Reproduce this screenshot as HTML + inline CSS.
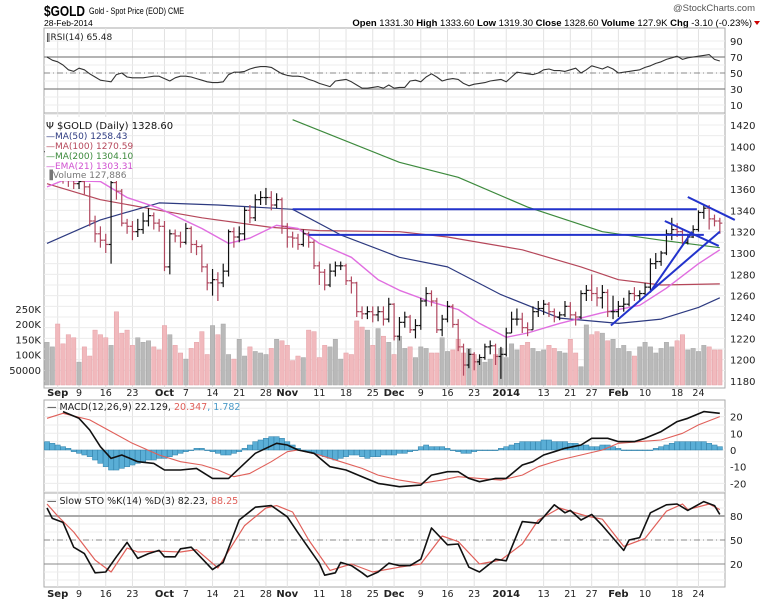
<!DOCTYPE html>
<html><head><meta charset="utf-8"><style>
html,body{margin:0;padding:0;background:#fff;}
svg{display:block;font-family:"DejaVu Sans","Liberation Sans",sans-serif;}
</style></head><body>
<svg id="c" width="765" height="601" viewBox="0 0 765 601" xmlns="http://www.w3.org/2000/svg">
<text x="44" y="16" font-family="Liberation Sans Narrow, Liberation Sans, sans-serif" font-weight="bold" font-size="15" textLength="41" lengthAdjust="spacingAndGlyphs">$GOLD</text>
<text x="89" y="14" font-size="9" textLength="95" lengthAdjust="spacingAndGlyphs" font-family="Liberation Sans, sans-serif">Gold - Spot Price (EOD)  CME</text>
<text x="44" y="26" font-size="8.5" font-family="Liberation Sans, sans-serif">28-Feb-2014</text>
<text x="755" y="11" font-size="9.5" text-anchor="end" fill="#555" font-family="Liberation Sans, sans-serif">@StockCharts.com</text>
<text x="752" y="26" font-size="9.5" text-anchor="end" font-family="Liberation Sans, sans-serif"><tspan font-weight="bold">Open</tspan> 1331.30 <tspan font-weight="bold">High</tspan> 1333.60 <tspan font-weight="bold">Low</tspan> 1319.30 <tspan font-weight="bold">Close</tspan> 1328.60 <tspan font-weight="bold">Volume</tspan> 127.9K <tspan font-weight="bold">Chg</tspan> -3.10 (-0.23%)</text>
<polygon points="754,21 760,21 757,25" fill="#c00"/>
<g id="g"></g>
</svg>
<script>
const closes=[1395,1396,
1390,1372,1368,1365,1367,1362,1330,1318,1312,1308,1366,1358,1328,1325,1320,1322,1330,1335,1328,1325,
1287,1318,1316,1310,1323,1308,1306,1287,1272,1275,1272,1283,1320,1315,1318,1340,1333,1350,1352,1352,1345,1350,1325,
1315,1314,1308,1318,1310,1288,1282,1270,1283,1288,1288,1274,1272,1245,1243,1245,1242,1245,1238,1252,
1222,1235,1240,1228,1232,1255,1262,1255,1228,1238,1250,1233,1212,1195,1205,1198,1202,1212,1213,1203,1205,
1225,1238,1238,1230,1228,1245,1248,1252,1245,1240,1242,1250,1242,1240,1262,1265,1262,1258,1263,1245,1245,
1250,1252,1262,1260,1262,1268,1290,1292,1300,1318,1322,1320,1310,1315,1322,1338,1342,1332,1330,1328];
const highs=[1400,1400,
1398,1392,1375,1372,1372,1370,1365,1335,1325,1318,1375,1370,1360,1332,1330,1332,1338,1342,1338,1332,
1330,1322,1322,1320,1328,1325,1312,1308,1290,1285,1282,1290,1322,1324,1325,1343,1345,1355,1358,1361,1358,1356,1352,
1328,1320,1318,1322,1320,1312,1292,1285,1290,1292,1292,1290,1278,1273,1250,1250,1250,1250,1250,1258,
1253,1240,1245,1242,1238,1258,1268,1265,1258,1242,1255,1252,1238,1215,1210,1207,1205,1215,1218,1215,1212,
1230,1245,1248,1244,1235,1250,1255,1256,1254,1248,1245,1255,1254,1245,1265,1270,1280,1268,1270,1266,1260,
1255,1258,1265,1268,1265,1272,1295,1300,1302,1322,1333,1328,1322,1318,1326,1340,1346,1345,1336,1333];
const lows=[1385,1388,
1370,1365,1362,1360,1360,1355,1325,1310,1305,1300,1290,1350,1325,1318,1312,1315,1318,1325,1322,1320,
1283,1280,1310,1305,1308,1300,1298,1282,1265,1260,1255,1268,1278,1305,1310,1312,1328,1330,1345,1345,1340,1342,1318,
1305,1305,1303,1306,1305,1285,1270,1265,1268,1278,1284,1270,1262,1240,1238,1238,1235,1236,1232,1235,
1218,1218,1230,1225,1220,1228,1250,1250,1225,1222,1235,1230,1208,1185,1192,1190,1195,1200,1205,1195,1182,
1203,1225,1232,1225,1222,1228,1240,1242,1240,1235,1237,1240,1238,1232,1238,1255,1255,1250,1248,1240,1238,
1240,1245,1250,1255,1255,1260,1265,1285,1288,1298,1312,1315,1308,1308,1314,1320,1332,1322,1325,1318];
const volumes=[140,125,
200,135,165,155,75,125,95,180,165,155,130,240,170,180,130,155,140,145,125,115,
195,165,130,105,85,120,140,175,100,195,165,200,100,85,150,95,125,110,105,100,120,150,145,
130,80,95,90,180,175,90,130,125,150,85,105,100,210,190,180,130,185,160,140,
100,160,120,125,90,125,120,105,105,155,110,115,150,105,120,100,85,75,85,100,120,
90,135,115,130,140,120,110,115,130,120,110,105,150,105,60,197,165,175,170,145,150,
120,130,110,95,125,140,125,105,120,140,125,145,165,115,120,110,130,125,115,115];
const rsi=[70,66,64,60,54,52,56,54,49,45,41,40,39,48,50,45,44,44,44,45,46,46,43,40,44,46,46,45,43,41,39,38,38,39,48,51,51,52,55,57,58,58,57,53,49,47,46,46,45,42,40,37,35,33,40,41,42,39,35,31,31,32,33,31,35,31,32,32,40,41,39,45,49,45,40,42,43,42,37,34,36,37,38,40,41,42,39,45,51,50,49,48,50,54,55,53,53,52,54,56,50,54,59,57,55,58,55,50,51,52,53,54,57,59,62,64,67,69,71,67,69,70,71,72,73,67,65];
const ma50Idx=[0,10,21,32,46,55,66,75,85,96,107,115,122,126];
const ma50Vals=[1309,1331,1347,1345,1341,1317,1296,1287,1261,1239,1234,1238,1249,1258];
const ma100Idx=[0,10,21,29,42,51,66,75,89,100,107,115,126];
const ma100Vals=[1365,1350,1340,1333,1324,1321,1320,1315,1303,1287,1275,1270,1271];
const ma200Idx=[46,66,77,90,104,115,126];
const ma200Vals=[1425,1385,1371,1343,1320,1312,1305];
const emaIdx=[0,3,10,15,21,29,34,38,43,47,51,57,62,66,72,77,81,86,90,96,104,111,116,122,126];
const emaVals=[1362,1368,1367,1352,1342,1323,1309,1314,1326,1323,1309,1296,1275,1265,1254,1247,1234,1221,1225,1234,1244,1251,1267,1290,1303];
const macdIdx=[3,6,8,10,12,14,17,20,22,25,28,31,34,36,39,43,45,47,50,53,56,59,62,66,70,72,75,77,79,81,84,86,89,91,93,95,97,100,102,105,107,110,112,115,118,120,123,126];
const macdVals=[23,19,12,2,-5,-3,-7,-8,-12,-12,-11,-17,-17,-11,-2,4,3,0,-2,-10,-12,-16,-20,-22,-21,-15,-13,-13,-17,-19,-17,-17,-9,-7,-3,-1,1,3,7,7,5,5,7,11,17,19,23,22];
const sigIdx=[0,3,8,12,16,21,25,29,32,35,38,42,45,47,51,55,59,62,66,70,74,77,81,85,89,92,96,100,104,107,111,115,119,122,126];
const sigVals=[19,22,18,11,4,-3,-7,-9,-12,-16,-14,-7,-1,0,-3,-7,-11,-15,-18,-20,-18,-16,-17,-18,-15,-10,-6,-3,0,4,5,6,10,15,20];
const hist=[5,4,3,2,1,-1,-2,-3,-4,-6,-8,-10,-12,-12,-11,-10,-9,-8,-7,-6,-6,-5,-5,-4,-3,-2,-1,0,1,1,0,-1,-2,-3,-3,-2,-1,1,3,5,6,7,8,8,7,5,3,1,0,-1,-2,-3,-4,-5,-6,-5,-4,-3,-3,-4,-5,-4,-4,-3,-3,-3,-2,-2,-1,0,2,3,2,2,2,1,0,-1,-2,-2,-1,0,0,0,0,1,2,3,4,5,5,5,5,6,6,5,5,5,4,4,3,3,2,2,3,3,2,1,0,0,0,0,0,0,1,2,3,4,5,5,5,5,5,5,4,3,2];
const kIdx=[0,1,3,5,7,9,11,13,15,17,19,21,22,24,25,27,31,33,36,39,42,45,47,51,52,54,55,57,59,60,62,64,66,68,70,72,75,77,79,81,84,86,89,92,95,97,98,100,102,104,108,109,111,113,116,118,120,123,125,126];
const kVals=[90,77,72,41,33,9,10,29,47,27,33,37,29,29,39,41,13,22,75,91,93,79,59,21,6,9,22,18,9,4,10,21,18,18,26,65,44,45,16,10,26,24,73,71,94,84,87,75,82,68,37,50,53,84,94,95,87,98,93,82];
const dIdx=[0,2,5,9,12,15,17,21,25,28,32,37,41,43,46,49,53,57,61,66,70,74,77,81,85,89,92,96,101,104,108,112,116,119,120,124,126];
const dVals=[95,80,60,25,10,40,35,36,35,38,15,68,90,93,85,50,12,20,10,16,20,55,48,20,25,45,75,90,80,76,42,52,86,95,88,95,88];
const dateLabels=["Sep","9","16","23","Oct","7","14","21","28","Nov","11","18","25","Dec","9","16","23","2014","13","21","27","Feb","10","18","24"];
const dateIdx=[2,6,11,16,22,26,31,36,41,45,51,56,61,65,70,75,80,86,93,98,102,107,112,118,122];
const dateBold=["Sep","Oct","Nov","Dec","2014","Feb"];
const priceTicks=[1180,1200,1220,1240,1260,1280,1300,1320,1340,1360,1380,1400,1420];
const volTicks=[50,100,150,200,250];
const volTickLabels=["50000","100K","150K","200K","250K"];
const rsiTicks=[10,30,50,70,90];
const macdTicks=[-20,-10,0,10,20];
const stoTicks=[20,50,80];
const trendLines=[[46,1341,121.7,1341],[49,1317,123,1317],[105.6,1232,126,1320],[112.9,1263,120.8,1320],[115.7,1330,125.8,1306.6],[120,1352.5,128.8,1331]];

const L=44,R=725;
const X=i=>47+5.34*i;
const yP=p=>125+(1420-p)*1.0667;
const yV=v=>385-v*0.305;
const yR=v=>41+(90-v)*0.8;
const yM=v=>450-v*1.67;
const yS=v=>516+(80-v)*0.8;
const NS="http://www.w3.org/2000/svg";
const G=document.getElementById('g');
function mk(tag,attrs,parent){const e=document.createElementNS(NS,tag);for(const k in attrs)e.setAttribute(k,attrs[k]);(parent||G).appendChild(e);return e;}
function txt(s,x,y,attrs){const e=mk('text',Object.assign({x:x,y:y,'font-size':10},attrs||{}));e.textContent=s;return e;}

const panels=[[28,113,'rsi-panel'],[113,388,'price-panel'],[400,493,'macd-panel'],[493,587,'sto-panel']];
panels.forEach(p=>{
  const r=mk('rect',{x:L,y:p[0],width:R-L,height:p[1]-p[0],fill:'#fff',stroke:'#aaa','stroke-width':1});
  
  
});
dateIdx.forEach((d,k)=>{
  [[28,388],[400,587]].forEach(s=>{
    const l=mk('line',{x1:X(d),x2:X(d),y1:s[0],y2:s[1],stroke:'#e2e2e2','stroke-width':1});
    
    
  });
});
for(let p=1180;p<=1430;p+=10){const l=mk('line',{x1:L,x2:R,y1:yP(p),y2:yP(p),stroke:'#ececec'});}
priceTicks.forEach(p=>{const t=txt(String(p),730,yP(p)+4,{'font-size':10,fill:'#222'});});
volTicks.forEach((v,k)=>{const t=txt(volTickLabels[k],41,yV(v)+4,{'font-size':10,'text-anchor':'end',fill:'#222'});});
for(let v=10;v<=90;v+=10){const l=mk('line',{x1:L,x2:R,y1:yR(v),y2:yR(v),stroke:'#ececec'});}
rsiTicks.forEach(v=>{const t=txt(String(v),730,yR(v)+4,{fill:'#222'});});
[[70,''],[30,''],[50,'6,3,1,3']].forEach(a=>{const l=mk('line',{x1:L,x2:R,y1:yR(a[0]),y2:yR(a[0]),stroke:'#888','stroke-width':a[1]?1:1.3,'stroke-dasharray':a[1]});});
for(let v=-25;v<=25;v+=5){const l=mk('line',{x1:L,x2:R,y1:yM(v),y2:yM(v),stroke:'#ececec'});}
macdTicks.forEach(v=>{const t=txt(String(v),730,yM(v)+4,{fill:'#222'});});
for(let v=0;v<=100;v+=10){const l=mk('line',{x1:L,x2:R,y1:yS(v),y2:yS(v),stroke:'#ececec'});}
stoTicks.forEach(v=>{const t=txt(String(v),730,yS(v)+4,{fill:'#222'});});
[[80,''],[20,''],[50,'6,3,1,3']].forEach(a=>{const l=mk('line',{x1:L,x2:R,y1:yS(a[0]),y2:yS(a[0]),stroke:a[0]==80?'#aaa':'#888','stroke-width':a[0]==80?2:1,'stroke-dasharray':a[1]});});
dateLabels.forEach((s,k)=>{[396,597].forEach(y=>{
  const b=dateBold.indexOf(s)>=0;
  const t=txt(s,X(dateIdx[k]),y,{'text-anchor':'middle','font-size':b?10:9.5,'font-weight':b?'bold':'normal',fill:'#222'});
  
  
});});
volumes.forEach((v,i)=>{
  const down=i>0&&closes[i]<closes[i-1];
  const r=mk('rect',{x:X(i)-2.2,y:yV(v),width:4.4,height:385-yV(v),fill:down?'#f1b9bd':'#b9b9b9',stroke:down?'#e4a0a6':'#a8a8a8','stroke-width':0.5});
  
  
});
function poly(idx,vals,yf,color,w,name){
  const pts=idx.map((d,k)=>X(d).toFixed(1)+','+yf(vals[k]).toFixed(1)).join(' ');
  const e=mk('polyline',{points:pts,fill:'none',stroke:color,'stroke-width':w,'stroke-linejoin':'round'});
  
  
  return e;
}
const clip=mk('clipPath',{id:'pc'});mk('rect',{x:L,y:113,width:R-L,height:275},clip);
poly(ma200Idx,ma200Vals,yP,'#3d8a3d',1.2,'ma200-line').setAttribute('clip-path','url(#pc)');
poly(ma100Idx,ma100Vals,yP,'#b5475a',1.2,'ma100-line');
poly(ma50Idx,ma50Vals,yP,'#2d3a80',1.2,'ma50-line');
poly(emaIdx,emaVals,yP,'#e06ee0',1.4,'ema21-line');
closes.forEach((c,i)=>{
  const o=i>0?closes[i-1]:c;
  const col=c<o?'#b0485f':'#111';
  const g=mk('g',{stroke:col,'stroke-width':1.2});
  
  
  const x=X(i);
  mk('line',{x1:x,x2:x,y1:yP(highs[i]),y2:yP(lows[i])},g);
  mk('line',{x1:x-2.5,x2:x,y1:yP(o),y2:yP(o)},g);
  mk('line',{x1:x,x2:x+2.5,y1:yP(c),y2:yP(c)},g);
});
trendLines.forEach(t=>{
  const l=mk('line',{x1:X(t[0]),y1:yP(t[1]),x2:X(t[2]),y2:yP(t[3]),stroke:'#2233cc','stroke-width':2});
  
  
});
poly(rsi.map((v,i)=>i),rsi,yR,'#333',1.1,'rsi-line');
hist.forEach((h,i)=>{
  const y0=yM(0),y1=yM(h);
  const r=mk('rect',{x:X(i)-2.6,y:Math.min(y0,y1),width:5.2,height:Math.max(0.6,Math.abs(y1-y0)),fill:'#5aaed6',stroke:'#2f7fa8','stroke-width':0.5});
  
  
});
poly(sigIdx,sigVals,yM,'#e0605a',1.1,'macd-signal-line');
poly(macdIdx,macdVals,yM,'#111',1.6,'macd-line');
poly(dIdx,dVals,yS,'#e0605a',1.2,'sto-d-line');
poly(kIdx,kVals,yS,'#111',1.6,'sto-k-line');
// legend background
const lb=mk('rect',{x:45,y:117,width:80,height:64,fill:'#fff'});


function leg(items,x,y,name,fs){
  const t=mk('text',{x:x,y:y,'font-size':fs||9.5});
  
  
  items.forEach(it=>{const s=mk('tspan',{fill:it[1]},t);s.textContent=it[0];});
}
leg([['\u2016RSI(14) 65.48','#222']],46,40,'rsi-legend',9);
leg([['\u03A8 $GOLD (Daily) 1328.60','#111']],46,129,'price-legend',10);
leg([['\u2014MA(50) 1258.43','#2d3a80']],46,139,'ma50-legend',9);
leg([['\u2014MA(100) 1270.59','#b5475a']],46,149,'ma100-legend',9);
leg([['\u2014MA(200) 1304.10','#3d8a3d']],46,159,'ma200-legend',9);
leg([['\u2014EMA(21) 1303.31','#d050d0']],46,169,'ema21-legend',9);
leg([['\u2590Volume 127,886','#777']],46,178,'volume-legend',9);
leg([['\u2014 MACD(12,26,9) 22.129, ','#222'],['20.347','#e0605a'],[', 1.782','#4a9ac8']],47,410,'macd-legend',9.5);
leg([['\u2014 Slow STO %K(14) %D(3) 82.23, ','#222'],['88.25','#e0605a']],47,504,'sto-legend',9.5);
</script>
</body></html>
